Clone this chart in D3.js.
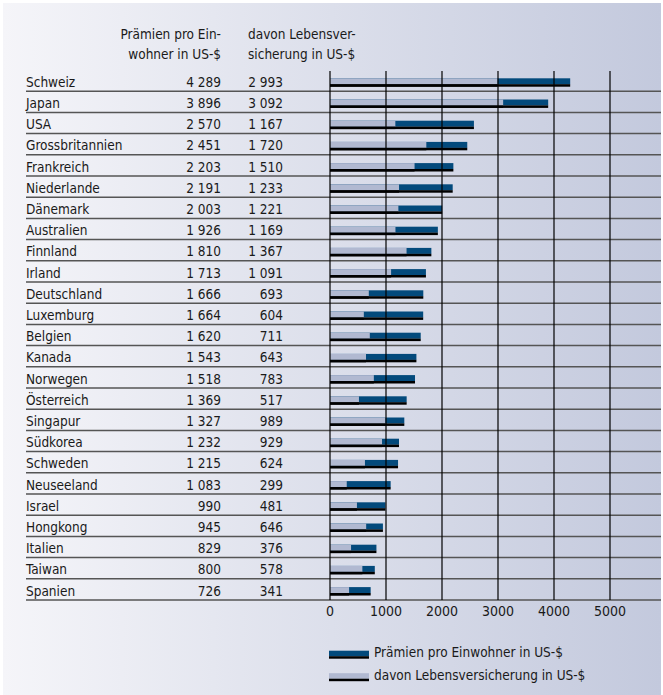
<!DOCTYPE html>
<html><head><meta charset="utf-8">
<script src="https://cdn.jsdelivr.net/npm/d3@7"></script>
<style>
html,body{margin:0;padding:0;background:#fff;}
text{font-family:"DejaVu Sans Condensed","Liberation Sans Narrow","DejaVu Sans",sans-serif;font-stretch:condensed;fill:#1a1a1a;}
</style></head>
<body>
<svg id="c" width="663" height="695"></svg>
<script>
const countries = ["Schweiz","Japan","USA","Grossbritannien","Frankreich","Niederlande","Dänemark","Australien","Finnland","Irland","Deutschland","Luxemburg","Belgien","Kanada","Norwegen","Österreich","Singapur","Südkorea","Schweden","Neuseeland","Israel","Hongkong","Italien","Taiwan","Spanien"];
const premiums = [4289,3896,2570,2451,2203,2191,2003,1926,1810,1713,1666,1664,1620,1543,1518,1369,1327,1232,1215,1083,990,945,829,800,726];
const lifeIns = [2993,3092,1167,1720,1510,1233,1221,1169,1367,1091,693,604,711,643,783,517,989,929,624,299,481,646,376,578,341];
const xTicks = [0,1000,2000,3000,4000,5000];
const headerPremium = ["Prämien pro Ein-","wohner in US-$"];
const headerLife = ["davon Lebensver-","sicherung in US-$"];
const legendLabels = ["Prämien pro Einwohner in US-$","davon Lebensversicherung in US-$"];

const svg = d3.select("#c");
const FS = 13.5;
const dark = "#034a7c", light = "#b1b9d1";

const defs = svg.append("defs");
const g = defs.append("linearGradient").attr("id","bg").attr("x1","0").attr("x2","1").attr("y1","0").attr("y2","0");
g.append("stop").attr("offset","0").attr("stop-color","#f5f5f9");
g.append("stop").attr("offset","1").attr("stop-color","#c3c9dd");
svg.append("rect").attr("x",3).attr("y",3).attr("width",658).attr("height",692).attr("fill","url(#bg)");

const x = d3.scaleLinear().domain([0,5000]).range([330,610]);
const y = d3.scaleBand().domain(countries).range([70,600]).padding(0);
const fmt = d3.formatLocale({decimal:",",thousands:" ",grouping:[3],currency:["","$"]}).format(",d");

const rows = countries.map((c,i)=>({c, p:premiums[i], l:lifeIns[i]}));

// header
svg.append("g").selectAll("text").data(headerPremium).join("text")
  .attr("x",221).attr("y",(d,i)=>39+i*20).attr("text-anchor","end").attr("font-size",FS).text(d=>d);
svg.append("g").selectAll("text").data(headerLife).join("text")
  .attr("x",248).attr("y",(d,i)=>39+i*20).attr("text-anchor","start").attr("font-size",FS).text(d=>d);

// row separators
svg.append("g").selectAll("line").data(rows).join("line")
  .attr("x1",26).attr("x2",661)
  .attr("y1",d=>y(d.c)+y.bandwidth()).attr("y2",d=>y(d.c)+y.bandwidth())
  .attr("stroke","#555").attr("stroke-width",1.5);

// labels
const lab = svg.append("g");
lab.selectAll("text.c").data(rows).join("text").attr("class","c")
  .attr("x",26).attr("y",d=>y(d.c)+16.7).attr("font-size",FS).text(d=>d.c);
lab.selectAll("text.p").data(rows).join("text").attr("class","p")
  .attr("x",221).attr("y",d=>y(d.c)+16.7).attr("text-anchor","end").attr("font-size",FS).text(d=>fmt(d.p));
lab.selectAll("text.l").data(rows).join("text").attr("class","l")
  .attr("x",283).attr("y",d=>y(d.c)+16.7).attr("text-anchor","end").attr("font-size",FS).text(d=>fmt(d.l));

// bars
const bars = svg.append("g");
function drawBar(sel, key, col){
  sel.append("g").selectAll("rect").data(rows).join("rect")
    .attr("x",x(0)).attr("y",d=>y(d.c)+8.3).attr("width",d=>x(d[key])-x(0)).attr("height",6)
    .attr("fill",col);
  sel.append("g").selectAll("rect").data(rows).join("rect")
    .attr("x",x(0)).attr("y",d=>y(d.c)+14.2).attr("width",d=>x(d[key])-x(0)).attr("height",2.5)
    .attr("fill","#000");
}
drawBar(bars,"p",dark);
drawBar(bars,"l",light);

// grid lines
svg.append("g").selectAll("line").data(xTicks).join("line")
  .attr("x1",d=>x(d)).attr("x2",d=>x(d)).attr("y1",71).attr("y2",600)
  .attr("stroke","#000").attr("stroke-width",1.2);

// axis labels
svg.append("g").selectAll("text").data(xTicks).join("text")
  .attr("x",d=>x(d)).attr("y",616).attr("text-anchor","middle").attr("font-size",14).text(d=>d);

// legend
const lg = svg.append("g");
const legCols = [dark, light];
legendLabels.forEach((t,i)=>{
  const yy = 650.7 + i*22.5;
  lg.append("rect").attr("x",329).attr("y",yy).attr("width",40).attr("height",5.5).attr("fill",legCols[i]);
  lg.append("rect").attr("x",329).attr("y",yy+5.5).attr("width",40).attr("height",2.5).attr("fill","#000");
  lg.append("text").attr("x",374).attr("y",yy+6.5).attr("font-size",FS).text(t);
});
</script>
</body></html>
